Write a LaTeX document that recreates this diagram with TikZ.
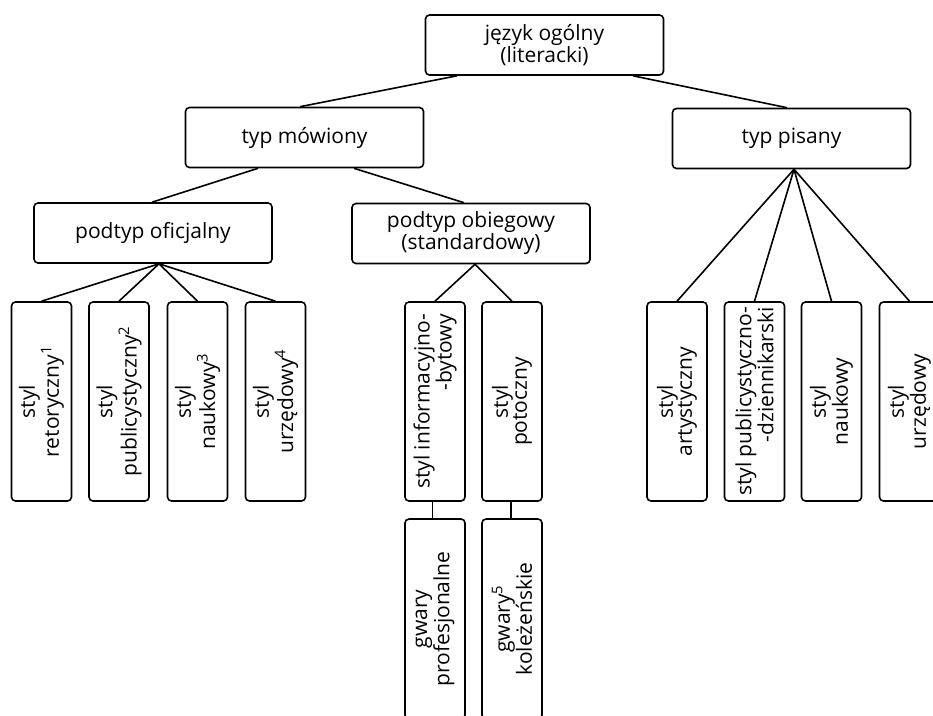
\documentclass[tikz,border=0pt]{standalone}
\usepackage{fontspec}
\setmainfont{Open Sans}
\begin{document}
\begin{tikzpicture}[x=1pt,y=-1pt,
  box/.style={draw,line width=1.6pt,rounded corners=4pt,inner sep=0pt,
    font=\fontsize{21}{19}\selectfont},
  hbox/.style={box,align=center,minimum width=238pt,minimum height=60pt},
  vbox/.style={box,align=center,rotate=90,minimum width=199pt,minimum height=60pt},
  vboxr/.style={vbox,align=right},
  lbox/.style={vbox,minimum width=200pt},
  link/.style={line width=1.6pt}]
\useasboundingbox (0,0) rectangle (933,715);

\node[hbox] (top) at (544.5,45) {język ogólny\\(literacki)};
\node[hbox] (tm) at (304.5,137.5) {typ mówiony};
\node[hbox] (tp) at (791.5,138.5) {typ pisany};
\node[hbox] (ofi) at (153,233) {podtyp oficjalny};
\node[hbox] (obi) at (471,233.5) {podtyp obiegowy\\(standardowy)};

\node[vbox] (r1) at (41.5,401.5) {styl\\retoryczny\textsuperscript{1}};
\node[vbox] (r2) at (119,401.5) {styl\\publicystyczny\textsuperscript{2}};
\node[vbox] (r3) at (197.5,401.5) {styl\\naukowy\textsuperscript{3}};
\node[vbox] (r4) at (275.5,401.5) {styl\\urzędowy\textsuperscript{4}};

\node[vboxr] (m1) at (435,401.5) {styl informacyjno-\\-bytowy};
\node[vbox] (m2) at (512,401.5) {styl\\potoczny};
\node[lbox] (g1) at (435,619) {gwary\\profesjonalne};
\node[lbox] (g2) at (512,619) {gwary\textsuperscript{5}\\koleżeńskie};

\node[vbox] (p1) at (677,401.5) {styl\\artystyczny};
\node[vboxr] (p2) at (754.5,401.5) {styl publicystyczno-\\-dziennikarski};
\node[vbox] (p3) at (831.5,401.5) {styl\\naukowy};
\node[vbox] (p4) at (909.5,401.5) {styl\\urzędowy};

\draw[link] ([xshift=-87.5pt]top.south) -- ([xshift=-4.5pt]tm.north);
\draw[link] ([xshift=88.5pt]top.south) -- ([xshift=-4.5pt]tp.north);
\draw[link] ([xshift=-46.5pt]tm.south) -- ([xshift=-1pt]ofi.north);
\draw[link] ([xshift=49.5pt]tm.south) -- ([xshift=-7pt]obi.north);
\foreach \n in {r1,r2,r3,r4} \draw[link] ([xshift=6pt]ofi.south) -- (\n.east);
\foreach \n in {m1,m2} \draw[link] ([xshift=4pt]obi.south) -- (\n.east);
\foreach \n in {p1,p2,p3,p4} \draw[link] ([xshift=2.5pt]tp.south) -- (\n.east);
\draw[link] ([xshift=-2.5pt]m1.west) -- ([xshift=-2.5pt]g1.east);
\draw[link] ([xshift=-1pt]m2.west) -- ([xshift=-1pt]g2.east);
\end{tikzpicture}
\end{document}
